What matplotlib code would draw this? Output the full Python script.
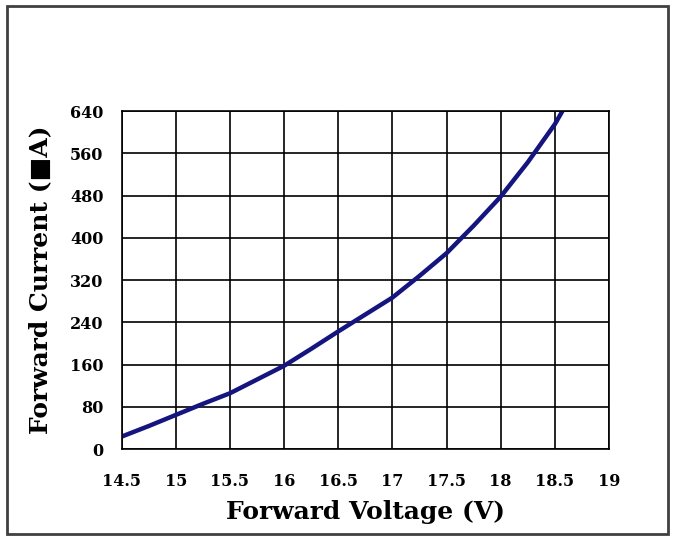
import matplotlib.pyplot as plt
from matplotlib.patches import Rectangle

voltage = [14.5, 14.75, 15.0, 15.25, 15.5, 15.75, 16.0, 16.25, 16.5,
           17.0, 17.25, 17.5, 17.75, 18.0, 18.25, 18.5, 18.57]
current = [24, 44, 65, 86, 106, 132, 158, 190, 223,
           287, 328, 371, 423, 478, 543, 615, 640]

x_ticks = [14.5, 15, 15.5, 16, 16.5, 17, 17.5, 18, 18.5, 19]
x_labels = ["14.5", "15", "15.5", "16", "16.5", "17", "17.5", "18", "18.5", "19"]
y_ticks = [0, 80, 160, 240, 320, 400, 480, 560, 640]

font = "DejaVu Serif"

fig = plt.figure(figsize=(6.73, 5.36), dpi=100)
ax = fig.add_axes([0.1808, 0.1618, 0.7241, 0.6311])

ax.plot(voltage, current, color="#15157f", linewidth=3.2,
        solid_capstyle="butt", solid_joinstyle="round")

ax.set_xlim(14.5, 19)
ax.set_ylim(0, 640)
ax.set_xticks(x_ticks)
ax.set_xticklabels(x_labels)
ax.set_yticks(y_ticks)
ax.grid(True, color="black", linewidth=1.2)
for s in ax.spines.values():
    s.set_linewidth(1.2)
ax.tick_params(length=0)
ax.tick_params(axis="x", pad=17)
ax.tick_params(axis="y", pad=13)
for lab in ax.get_xticklabels() + ax.get_yticklabels():
    lab.set_fontfamily(font)
    lab.set_fontweight("bold")
    lab.set_fontsize(11.5)

ax.set_xlabel("Forward Voltage (V)", fontfamily=font, fontweight="bold",
              fontsize=18, labelpad=7)
ax.set_ylabel("Forward Current (\u25a0A)", fontfamily=[font, "DejaVu Sans"],
              fontweight="bold", fontsize=18, labelpad=13)

# outer frame
fig.patches.append(Rectangle((7 / 673, 2 / 536), 661 / 673, 528 / 536,
                             transform=fig.transFigure, fill=False,
                             edgecolor="#404040", linewidth=2))

fig.savefig("out.png", dpi=100)
